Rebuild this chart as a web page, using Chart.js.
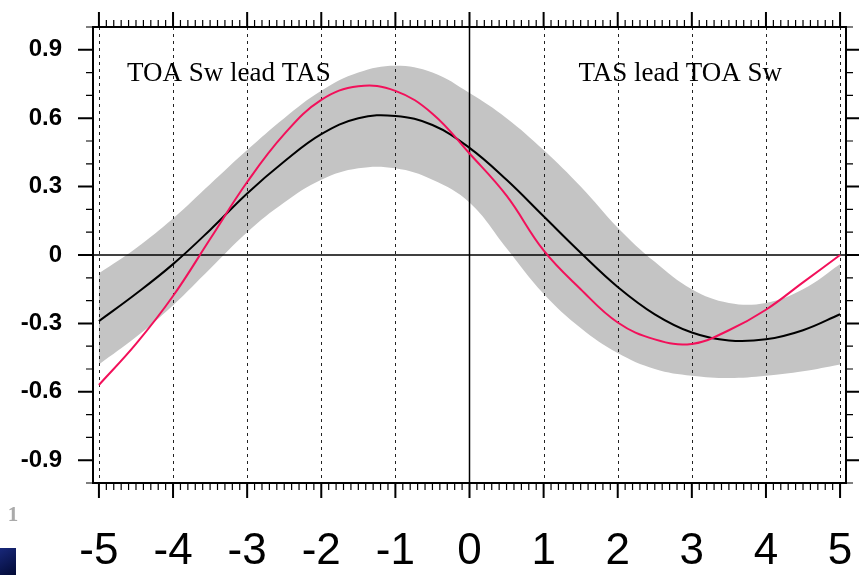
<!DOCTYPE html>
<html>
<head>
<meta charset="utf-8">
<script src="https://cdn.jsdelivr.net/npm/chart.js@4.4.1/dist/chart.umd.min.js"></script>
<style>
  html, body { margin: 0; padding: 0; background: #fff; }
  #wrap { width: 859px; height: 575px; }
</style>
</head>
<body>
<div id="wrap"><canvas id="lag" width="859" height="575"></canvas></div>
<script>
// lag in years, every half year
const lags = [-5, -4.5, -4, -3.5, -3, -2.5, -2, -1.5, -1, -0.5, 0, 0.5, 1, 1.5, 2, 2.5, 3, 3.5, 4, 4.5, 5];
// multi-model mean (black)
const meanCorr = [-0.29, -0.17, -0.04, 0.11, 0.27, 0.41, 0.53, 0.60, 0.61, 0.57, 0.47, 0.33, 0.17, 0.01, -0.14, -0.26, -0.34, -0.375, -0.37, -0.33, -0.26];
// obs (red)
const obsCorr = [-0.57, -0.39, -0.18, 0.07, 0.32, 0.53, 0.68, 0.74, 0.72, 0.62, 0.445, 0.26, 0.02, -0.15, -0.296, -0.37, -0.39, -0.33, -0.24, -0.12, 0.0];
// spread (gray)
const bandHigh = [-0.08, 0.03, 0.16, 0.31, 0.46, 0.60, 0.72, 0.80, 0.83, 0.80, 0.71, 0.60, 0.46, 0.30, 0.12, -0.03, -0.15, -0.21, -0.21, -0.15, -0.04];
const bandLow = [-0.48, -0.36, -0.22, -0.06, 0.10, 0.23, 0.33, 0.38, 0.38, 0.33, 0.23, 0.03, -0.17, -0.32, -0.43, -0.50, -0.53, -0.54, -0.53, -0.51, -0.48];

const xTicks = [-5, -4, -3, -2, -1, 0, 1, 2, 3, 4, 5];
const yTicks = [-0.9, -0.6, -0.3, 0, 0.3, 0.6, 0.9];
const yLabels = ['-0.9', '-0.6', '-0.3', '0', '0.3', '0.6', '0.9'];

const pts = arr => arr.map((v, i) => ({ x: lags[i], y: v }));

const frame = {
  id: 'frame',
  afterDatasetDraw(chart, args) {
    if (args.index !== 2) return; // after the gray band, before the curves
    const { ctx, chartArea: a, scales: { x, y } } = chart;
    ctx.save();
    ctx.strokeStyle = '#222';
    ctx.lineWidth = 1;
    ctx.setLineDash([3, 4]);
    xTicks.forEach(v => {
      if (v === 0) return;
      const px = Math.round(x.getPixelForValue(v)) + 0.5;
      ctx.beginPath(); ctx.moveTo(px, a.top); ctx.lineTo(px, a.bottom); ctx.stroke();
    });
    ctx.setLineDash([]);
    ctx.strokeStyle = '#000';
    ctx.lineWidth = 1.5;
    const x0 = x.getPixelForValue(0), y0 = y.getPixelForValue(0);
    ctx.beginPath(); ctx.moveTo(x0, a.top); ctx.lineTo(x0, a.bottom); ctx.stroke();
    ctx.beginPath(); ctx.moveTo(a.left, y0); ctx.lineTo(a.right, y0); ctx.stroke();
    ctx.restore();
  },
  afterDraw(chart) {
    const { ctx, chartArea: a, scales: { x, y } } = chart;
    ctx.save();
    ctx.strokeStyle = '#000';
    ctx.lineWidth = 2;
    ctx.strokeRect(a.left, a.top, a.right - a.left, a.bottom - a.top);
    // ticks outward, major and minor
    for (let k = -50; k <= 50; k++) {
      const px = x.getPixelForValue(k / 10);
      const len = k % 10 === 0 ? 15 : 7;
      ctx.lineWidth = k % 10 === 0 ? 2 : 1.2;
      ctx.beginPath();
      ctx.moveTo(px, a.bottom); ctx.lineTo(px, a.bottom + len);
      ctx.moveTo(px, a.top); ctx.lineTo(px, a.top - len);
      ctx.stroke();
    }
    for (let k = -10; k <= 10; k++) {
      const py = y.getPixelForValue(k / 10);
      const len = k % 3 === 0 && Math.abs(k) < 10 ? 15 : 7;
      ctx.lineWidth = len === 15 ? 2 : 1.2;
      ctx.beginPath();
      ctx.moveTo(a.left, py); ctx.lineTo(a.left - len, py);
      ctx.moveTo(a.right, py); ctx.lineTo(a.right + len, py);
      ctx.stroke();
    }
    // panel notes
    ctx.fillStyle = '#000';
    ctx.font = '27px "Liberation Serif", serif';
    ctx.textBaseline = 'alphabetic';
    ctx.textAlign = 'left';
    ctx.fillText('TOA Sw lead TAS', x.getPixelForValue(-4.62), y.getPixelForValue(0.765));
    ctx.fillText('TAS lead TOA Sw', x.getPixelForValue(1.47), y.getPixelForValue(0.765));
    // page leftovers
    ctx.fillStyle = '#aaa';
    ctx.font = 'bold 21px "Liberation Serif", serif';
    ctx.textAlign = 'center';
    ctx.fillText('1', 13, 521);
    const g = ctx.createLinearGradient(0, 548, 16, 575);
    g.addColorStop(0, '#18287a');
    g.addColorStop(1, '#020a35');
    ctx.fillStyle = g;
    ctx.fillRect(0, 548, 16, 27);
    ctx.restore();
  }
};

new Chart(document.getElementById('lag'), {
  type: 'line',
  data: {
    datasets: [
      { label: 'obs', data: pts(obsCorr), borderColor: '#f2105a', borderWidth: 2, pointRadius: 0, tension: 0.4, fill: false },
      { label: 'mean', data: pts(meanCorr), borderColor: '#000', borderWidth: 2, pointRadius: 0, tension: 0.4, fill: false },
      { label: 'high', data: pts(bandHigh), borderWidth: 0, borderColor: 'rgba(0,0,0,0)', backgroundColor: '#c4c4c4', pointRadius: 0, tension: 0.4, fill: '+1' },
      { label: 'low', data: pts(bandLow), borderWidth: 0, borderColor: 'rgba(0,0,0,0)', pointRadius: 0, tension: 0.4, fill: false }
    ]
  },
  options: {
    responsive: false,
    animation: false,
    layout: { padding: { top: 27, right: 13, left: 0, bottom: 0 } },
    plugins: { legend: { display: false }, tooltip: { enabled: false } },
    scales: {
      x: {
        type: 'linear',
        min: -5.08,
        max: 5.08,
        afterBuildTicks: s => { s.ticks = xTicks.map(v => ({ value: v })); },
        afterFit: s => { s.height = 92; s.paddingLeft = 0; s.paddingRight = 0; },
        grid: { display: false, drawTicks: false },
        border: { display: false },
        ticks: { autoSkip: false, maxRotation: 0, padding: 42, color: '#000', font: { family: '"Liberation Sans", Arial, sans-serif', size: 44 } }
      },
      y: {
        type: 'linear',
        min: -1,
        max: 1,
        afterBuildTicks: s => { s.ticks = yTicks.map(v => ({ value: v })); },
        afterFit: s => { s.width = 93; s.paddingTop = 0; s.paddingBottom = 0; },
        grid: { display: false, drawTicks: false },
        border: { display: false },
        ticks: { autoSkip: false, padding: 31, color: '#000', callback: (v, i) => yLabels[i], font: { family: '"Liberation Sans", Arial, sans-serif', size: 24, weight: 'bold' } }
      }
    }
  },
  plugins: [frame]
});
</script>
</body>
</html>
